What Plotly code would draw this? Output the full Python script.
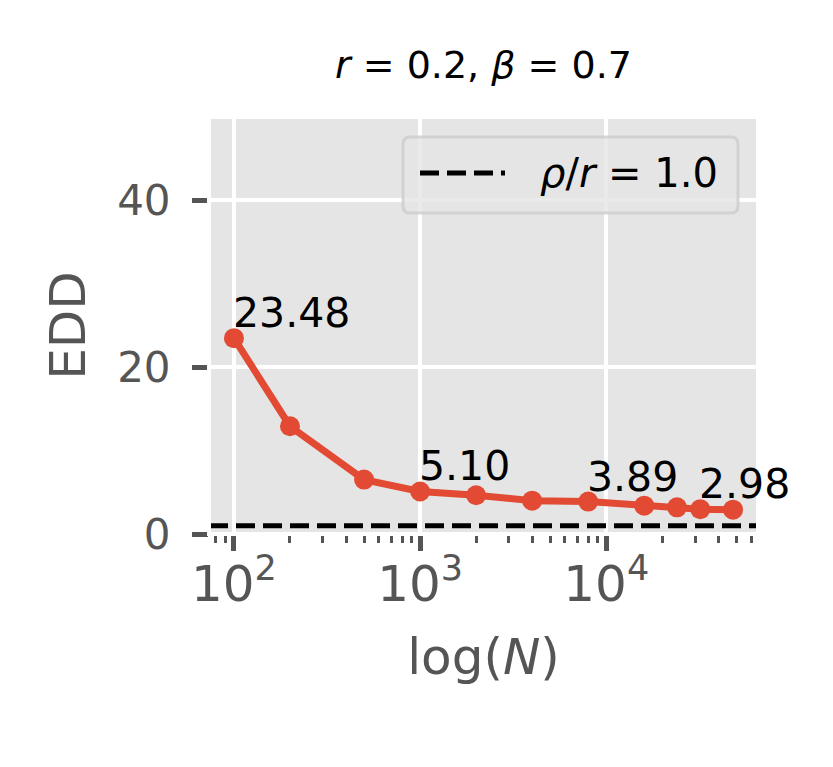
import numpy as np
import plotly.graph_objects as go

# ---- data ----
N = [100, 200, 500, 1000, 2000, 4000, 8000, 16000, 24000, 32000, 48000]
EDD = [23.48, 12.92, 6.52, 5.10, 4.64, 4.00, 3.89, 3.40, 3.20, 2.98, 2.92]
RHO_R = 1.0
LABEL_EVERY = 3
TITLE = "<i>r</i> = 0.2, <i>β</i> = 0.7"
LEGEND_TEXT = "<i>ρ</i>/<i>r</i> = 1.0"
X_LABEL = "log(<i>N</i>)"
Y_LABEL = "EDD"
Y_TICKS = [0, 20, 40]
Y_RANGE = [0, 50]

RED = "#E24A33"
GRAY_TXT = "#555555"
FONT = "DejaVu Sans"

# page has an 8px body margin; figure is sized/offset to compensate
OFF = 8
W, H = 833 - OFF, 767 - OFF
L, R, T, B = 209 - OFF, 75, 117 - OFF, 233
PW, PH = W - L - R, H - T - B

logs = np.log10(N)
span = logs.max() - logs.min()
x_range = [logs.min() - 0.05 * span, logs.max() + 0.05 * span]


def px_x(px):
    # px in page coordinates
    return (px - OFF - L) / PW


def px_y(py):
    return (H - B - (py - OFF)) / PH


fig = go.Figure()

# reference line rho/r
fig.add_trace(go.Scatter(
    x=[10 ** x_range[0], 10 ** x_range[1]], y=[RHO_R, RHO_R],
    mode="lines", line=dict(color="black", width=5, dash="19px,8px"),
    showlegend=False, hoverinfo="skip"))

# main series
fig.add_trace(go.Scatter(
    x=N, y=EDD, mode="lines+markers",
    line=dict(color=RED, width=7),
    marker=dict(color=RED, size=20),
    showlegend=False))

annotations = []
for i in range(0, len(N), LABEL_EVERY):
    annotations.append(dict(
        x=float(np.log10(N[i])), y=EDD[i], xref="x", yref="y",
        text=f"{EDD[i]:.2f}", showarrow=False,
        xanchor="left", yanchor="bottom", xshift=-3, yshift=-1,
        font=dict(family=FONT, size=41, color="black")))

# legend text
annotations.append(dict(
    x=px_x(538), y=px_y(173), xref="paper", yref="paper",
    text=LEGEND_TEXT, showarrow=False, xanchor="left", yanchor="middle",
    font=dict(family=FONT, size=40, color="black")))

# legend box (rounded)
x0, x1 = px_x(403), px_x(738)
y0, y1 = px_y(213), px_y(137)
rx, ry = 7 / PW, 7 / PH
path = (f"M{x0+rx},{y0} L{x1-rx},{y0} Q{x1},{y0} {x1},{y0+ry} "
        f"L{x1},{y1-ry} Q{x1},{y1} {x1-rx},{y1} L{x0+rx},{y1} "
        f"Q{x0},{y1} {x0},{y1-ry} L{x0},{y0+ry} Q{x0},{y0} {x0+rx},{y0} Z")

shapes = [
    # white axes frame (ggplot style spines)
    dict(type="rect", xref="paper", yref="paper", x0=0, x1=1, y0=0, y1=1,
         line=dict(color="white", width=4), layer="above"),
    dict(type="path", xref="paper", yref="paper", path=path,
         fillcolor="rgba(229,229,229,0.8)",
         line=dict(color="rgba(204,204,204,0.8)", width=3), layer="above"),
    dict(type="line", xref="paper", yref="paper",
         x0=px_x(420), x1=px_x(505), y0=px_y(173), y1=px_y(173),
         line=dict(color="black", width=5, dash="19px,8px"), layer="above"),
]

fig.update_layout(
    width=W, height=H,
    margin=dict(l=L, r=R, t=T, b=B, pad=0),
    paper_bgcolor="white", plot_bgcolor="#E5E5E5",
    font=dict(family=FONT, color=GRAY_TXT),
    title=dict(text=TITLE, x=0.5, xref="paper", y=1 - (65 - OFF) / H,
               yref="container", xanchor="center", yanchor="middle",
               font=dict(family=FONT, size=38, color="black")),
    annotations=annotations,
    shapes=shapes,
    showlegend=False,
)

fig.update_xaxes(
    type="log", range=x_range,
    tickmode="linear", tick0=0, dtick=1, exponentformat="power",
    showgrid=True, gridcolor="white", gridwidth=4,
    zeroline=False, showline=False,
    ticks="outside", ticklen=16, tickwidth=4.5, tickcolor=GRAY_TXT,
    ticklabelstandoff=-8,
    tickfont=dict(family=FONT, size=40, color=GRAY_TXT),
    minor=dict(dtick="D1", ticks="outside", ticklen=8, tickwidth=3,
               tickcolor=GRAY_TXT, showgrid=False),
    title=dict(text=X_LABEL, standoff=26,
               font=dict(family=FONT, size=50, color=GRAY_TXT)),
)

fig.update_yaxes(
    range=Y_RANGE, tickmode="array", tickvals=Y_TICKS,
    showgrid=True, gridcolor="white", gridwidth=4,
    zeroline=False, showline=False,
    ticks="outside", ticklen=16, tickwidth=4.5, tickcolor=GRAY_TXT,
    ticklabelstandoff=13,
    tickfont=dict(family=FONT, size=42, color=GRAY_TXT),
    title=dict(text=Y_LABEL, standoff=15,
               font=dict(family=FONT, size=50, color=GRAY_TXT)),
)

fig.write_html("out.html")
